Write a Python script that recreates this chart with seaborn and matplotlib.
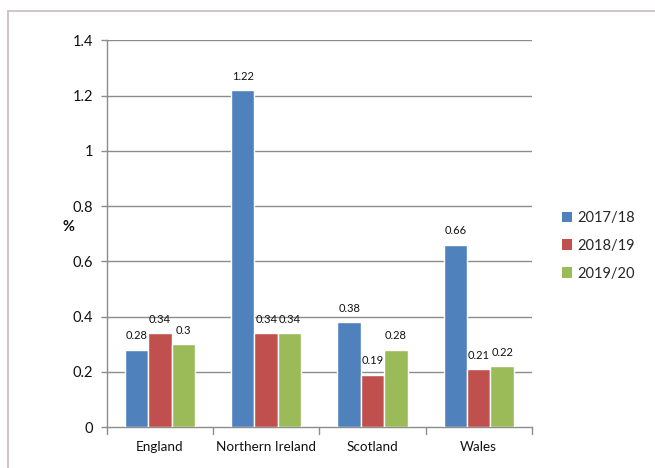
import matplotlib
matplotlib.use("Agg")
import matplotlib.pyplot as plt
import seaborn as sns
import pandas as pd
from matplotlib.patches import Patch
from matplotlib.lines import Line2D

categories = ["England", "Northern Ireland", "Scotland", "Wales"]
series_names = ["2017/18", "2018/19", "2019/20"]
v_2017 = [0.28, 1.22, 0.38, 0.66]
v_2018 = [0.34, 0.34, 0.19, 0.21]
v_2019 = [0.30, 0.34, 0.28, 0.22]
label_2017 = ["0.28", "1.22", "0.38", "0.66"]
label_2018 = ["0.34", "0.34", "0.19", "0.21"]
label_2019 = ["0.3", "0.34", "0.28", "0.22"]
y_ticks = [0, 0.2, 0.4, 0.6, 0.8, 1, 1.2, 1.4]
y_ticklabels = ["0", "0.2", "0.4", "0.6", "0.8", "1", "1.2", "1.4"]
colors = ["#4F81BD", "#C0504D", "#9BBB59"]

rows = []
for s, vals in zip(series_names, [v_2017, v_2018, v_2019]):
    for c, v in zip(categories, vals):
        rows.append({"Region": c, "Year": s, "Value": v})
df = pd.DataFrame(rows)

sns.set_theme(style="white")
plt.rcParams["font.family"] = ["Lato", "DejaVu Sans"]

fig = plt.figure(figsize=(6.55, 4.68), dpi=100)
ax = fig.add_axes([0.163, 0.0876, 0.649, 0.826])

sns.barplot(data=df, x="Region", y="Value", hue="Year", order=categories,
            hue_order=series_names, palette=colors, width=0.66,
            saturation=1, ax=ax, legend=False, errorbar=None, zorder=3)

grid_c = "#8c8c8c"
ax.set_ylim(0, 1.4)
ax.set_xlim(-0.5, len(categories) - 0.5)
ax.set_yticks(y_ticks)
ax.set_yticklabels(y_ticklabels, fontsize=10.5, color="#111111")
for y in y_ticks[1:]:
    ax.axhline(y, color=grid_c, lw=1.0, zorder=1)

ax.set_xticks(range(len(categories)))
ax.set_xticklabels(categories, fontsize=9.7, color="#111111")
ax.tick_params(axis="x", length=0, pad=10)
for xb in [i - 0.5 for i in range(len(categories) + 1)]:
    ax.add_line(Line2D([xb, xb], [0, -0.018], color=grid_c, lw=1.0,
                       transform=ax.get_xaxis_transform(), clip_on=False))
ax.tick_params(axis="y", length=4, width=1.0, color=grid_c, direction="out", left=True, pad=6)

for side in ["top", "right"]:
    ax.spines[side].set_visible(False)
for side in ["left", "bottom"]:
    ax.spines[side].set_color(grid_c)
    ax.spines[side].set_linewidth(1.0)

ax.set_xlabel("")
ax.set_ylabel("%", rotation=0, fontsize=10.5, fontweight="bold", color="#111111")
ax.yaxis.set_label_coords(-0.09, 0.5)

all_labels = [label_2017, label_2018, label_2019]
for cont, labs in zip(ax.containers, all_labels):
    ax.bar_label(cont, labels=labs, padding=6, fontsize=8, color="#111111")

handles = [Patch(facecolor=c, edgecolor="none") for c in colors]
fig.legend(handles, series_names, loc="center left", bbox_to_anchor=(0.838, 0.475),
           frameon=False, fontsize=10.5, handlelength=0.7, handleheight=0.7,
           handletextpad=0.35, labelspacing=0.95)

fig.add_artist(Line2D([8 / 655, 8 / 655], [0, 1 - 10.5 / 468], color="#c9b9c1", lw=1.2))
fig.add_artist(Line2D([8 / 655, 1], [1 - 10.5 / 468, 1 - 10.5 / 468], color="#c9b9c1", lw=1.2))

fig.savefig("out.png", dpi=100)
